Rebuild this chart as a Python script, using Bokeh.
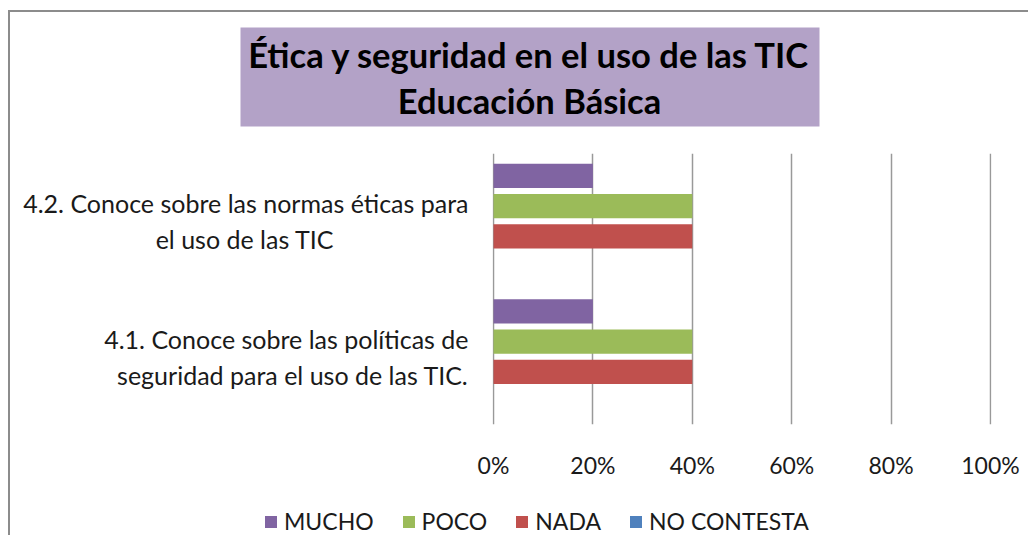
from bokeh.plotting import figure
from bokeh.models import (FactorRange, Range1d, FixedTicker, NumeralTickFormatter, Legend, LegendItem,
                          ColumnDataSource)
from bokeh.transform import dodge
from bokeh.core.properties import value
from bokeh.embed import file_html
from bokeh.resources import INLINE

# ---- data ----
categories = [
    "4.1. Conoce sobre las políticas de\nseguridad para el uso de las TIC.",
    "4.2. Conoce sobre las normas éticas para\nel uso de las TIC",
]
series_names = ["MUCHO", "POCO", "NADA", "NO CONTESTA"]
mucho = [0.20, 0.20]
poco = [0.40, 0.40]
nada = [0.40, 0.40]
no_contesta = [0.0, 0.0]
x_ticks = [0, 0.2, 0.4, 0.6, 0.8, 1.0]
title_text = "Ética y seguridad en el uso de las TIC\nEducación Básica"

colors = ["#8064A2", "#9BBB59", "#C0504D", "#4F81BD"]
offsets = [0.335, 0.112, -0.112, -0.335]
FONT = "Lato"
TXT = "#1a1a1a"
W = 1020
BORDER = "2px solid #8c8c8c"

# centre the short second line under the first (axis labels are right-aligned)
label_pad = [0, 21]
factors = [c + "\u00a0" * n for c, n in zip(categories, label_pad)]


def bare(fig):
    fig.outline_line_color = None
    fig.xaxis.visible = False
    fig.yaxis.visible = False
    fig.xgrid.visible = False
    fig.ygrid.visible = False
    fig.background_fill_color = "white"
    fig.border_fill_color = "white"


# ---- title strip ----
TH = 143
tf = figure(width=W, height=TH, x_range=Range1d(0, W), y_range=Range1d(0, TH),
            output_backend="svg", toolbar_location=None, min_border=0)
bare(tf)
tf.styles = {"margin-left": "8px", "margin-top": "10px", "border-left": BORDER, "border-top": BORDER}
tf.quad(left=[230], right=[809], bottom=[29], top=[128], fill_color="#B3A2C7", line_color=None)
tf.text(x=[519], y=[78], text=[title_text], text_align="center", text_baseline="middle",
        text_font=value(FONT), text_font_style="bold", text_font_size="34.5px",
        text_color="black", text_line_height=1.1)

# ---- main chart ----
p = figure(
    width=W, height=328,
    y_range=FactorRange(*factors),
    x_range=Range1d(-0.002, 1.002),
    output_backend="svg", toolbar_location=None,
    min_border_left=482, min_border_right=W - 981, min_border_top=0, min_border_bottom=50,
)
p.styles = {"margin-left": "8px", "border-left": BORDER}
p.outline_line_color = None
p.background_fill_color = "white"
p.border_fill_color = "white"

data = dict(cat=factors, MUCHO=mucho, POCO=poco, NADA=nada)
data["NO CONTESTA"] = no_contesta
src = ColumnDataSource(data)

for name, col, off in zip(series_names, colors, offsets):
    p.hbar(y=dodge("cat", off, range=p.y_range), right=name, left=0, height=0.18,
           source=src, fill_color=col, line_color=None)

p.xaxis.ticker = FixedTicker(ticks=x_ticks)
p.xaxis.formatter = NumeralTickFormatter(format="0%")
p.xaxis.axis_line_color = None
p.xaxis.major_tick_line_color = None
p.xaxis.minor_tick_line_color = None
p.xaxis.major_label_standoff = 20
p.xaxis.major_label_text_font = FONT
p.xaxis.major_label_text_font_size = "23px"
p.xaxis.major_label_text_color = TXT

p.yaxis.axis_line_color = None
p.yaxis.major_tick_line_color = None
p.yaxis.minor_tick_line_color = None
p.yaxis.major_label_standoff = 18
p.yaxis.major_label_text_font = FONT
p.yaxis.major_label_text_font_size = "25px"
p.yaxis.major_label_text_color = TXT

p.xgrid.ticker = FixedTicker(ticks=x_ticks)
p.xgrid.grid_line_color = "#999999"
p.xgrid.grid_line_width = 1.5
p.ygrid.grid_line_color = None

# ---- legend strip (swatches only; zero-width, invisible bars) ----
lf = figure(width=W, height=54, output_backend="svg", toolbar_location=None, min_border=0,
            x_range=Range1d(0, 1), y_range=Range1d(0, 1))
bare(lf)
lf.styles = {"margin-left": "8px", "border-left": BORDER}
swatch_src = ColumnDataSource(dict(y=[-5], left=[-5], right=[-5]))
items = []
for name, col in zip(series_names, colors):
    r = lf.hbar(y="y", left="left", right="right", height=0.5, source=swatch_src,
                fill_color=col, line_color=None)
    items.append(LegendItem(label=name, renderers=[r]))
legend = Legend(items=items, orientation="horizontal", location=(253, 0),
                label_text_font=FONT, label_text_font_size="23px", label_text_color=TXT,
                glyph_width=15, glyph_height=15, label_standoff=6, spacing=27,
                border_line_color=None, background_fill_alpha=0, margin=0, padding=0)
lf.add_layout(legend)

open("out.html", "w").write(file_html([tf, p, lf], INLINE))
